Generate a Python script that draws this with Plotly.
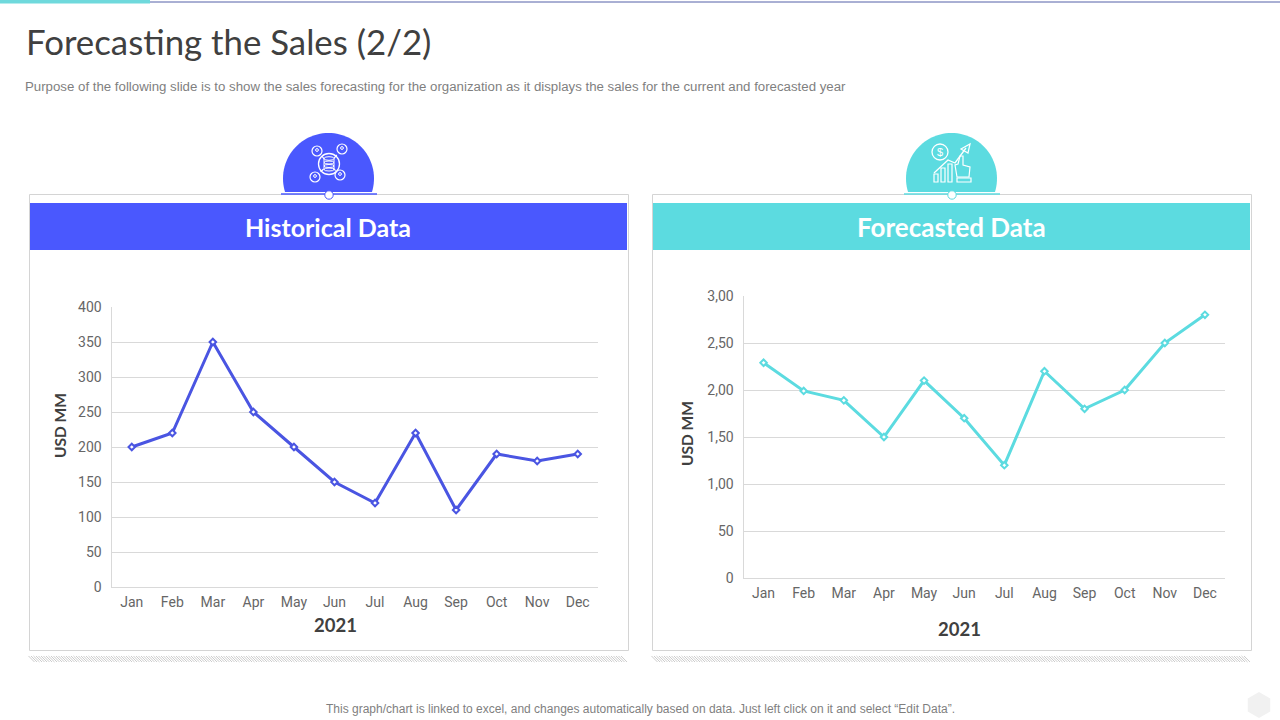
import math
import plotly.graph_objects as go

months = ["Jan", "Feb", "Mar", "Apr", "May", "Jun", "Jul", "Aug", "Sep", "Oct", "Nov", "Dec"]
historical = [200, 220, 350, 250, 200, 150, 120, 220, 110, 190, 180, 190]
forecast = [2.29, 1.99, 1.89, 1.5, 2.1, 1.7, 1.2, 2.2, 1.8, 2.0, 2.5, 2.8]
hist_ticks = [0, 50, 100, 150, 200, 250, 300, 350, 400]
fore_ticks = [0, 0.5, 1.0, 1.5, 2.0, 2.5, 3.0]
fore_labels = ["0", "50", "1,00", "1,50", "2,00", "2,50", "3,00"]

BLUE = "#4a58fe"
LINE_BLUE = "#4a55e2"
TEAL = "#5cdbe0"
W, H = 1280, 720


def X(px):
    return px / W


def Y(py):
    return 1 - py / H


shapes = []
annotations = []


def rect(x0, y0, x1, y1, fill=None, line=None, lw=1):
    shapes.append(dict(type="rect", xref="paper", yref="paper", x0=X(x0), x1=X(x1), y0=Y(y0), y1=Y(y1),
                       fillcolor=fill or "rgba(0,0,0,0)", line=dict(color=line or "rgba(0,0,0,0)", width=lw if line else 0)))


def seg(x0, y0, x1, y1, color, lw=1):
    shapes.append(dict(type="line", xref="paper", yref="paper", x0=X(x0), x1=X(x1), y0=Y(y0), y1=Y(y1),
                       line=dict(color=color, width=lw)))


def circ(cx, cy, r, fill=None, line=None, lw=1, ry=None):
    ry = r if ry is None else ry
    shapes.append(dict(type="circle", xref="paper", yref="paper", x0=X(cx - r), x1=X(cx + r), y0=Y(cy - ry), y1=Y(cy + ry),
                       fillcolor=fill or "rgba(0,0,0,0)", line=dict(color=line or "rgba(0,0,0,0)", width=lw if line else 0)))


def path(points, fill=None, line=None, lw=1, close=False):
    d = "M" + " L".join(f"{X(a):.5f},{Y(b):.5f}" for a, b in points) + (" Z" if close else "")
    shapes.append(dict(type="path", xref="paper", yref="paper", path=d,
                       fillcolor=fill or "rgba(0,0,0,0)", line=dict(color=line or "rgba(0,0,0,0)", width=lw if line else 0)))


def text(x, y, s, size, color, family, anchor="center", bold=False, angle=0):
    annotations.append(dict(xref="paper", yref="paper", x=X(x), y=Y(y), text=f"<b>{s}</b>" if bold else s,
                            showarrow=False, xanchor=anchor, yanchor="middle", textangle=angle,
                            font=dict(size=size, color=color, family=family)))


def hatch(x0, x1, y0, y1):
    segs = []
    step = 2.5
    x = x0
    while x < x1:
        segs.append(f"M{X(x):.5f},{Y(y0):.5f} L{X(x + (y1 - y0)):.5f},{Y(y1):.5f}")
        x += step
    shapes.append(dict(type="path", xref="paper", yref="paper", path=" ".join(segs), line=dict(color="#cccccc", width=1)))


def dome(cx, color, cy=178.5, r=45.5, bottom=192):
    pts = []
    floor_angle = math.asin((bottom - cy) / r)
    n = 60
    for i in range(n + 1):
        a = -floor_angle + (math.pi + 2 * floor_angle) * i / n
        pts.append((cx + r * math.cos(a), cy - r * math.sin(a)))
    path(pts, fill=color, close=True)


# top rule
seg(150, 2, 1280, 2, "#5560a8", 1)
rect(0, 0, 150, 3.5, fill="#6fd9dc")

# panels
for x0, x1, color, ttl, tsize in [(29.5, 628.5, BLUE, "Historical Data", 25), (652.5, 1251.5, TEAL, "Forecasted Data", 26)]:
    cx = (x0 + x1) / 2
    dome(cx - 0.5, color)
    rect(x0, 194.5, x1, 650.5, line="#d4d4d4", lw=1)
    rect(x0 + 0.5, 203, x1 - 1.5, 250, fill=color)
    seg(cx - 48, 194, cx + 48, 194, color, 1.5)
    circ(cx, 195, 4.2, fill="#ffffff", line=color, lw=1)
    text(cx - 1, 226.5, ttl, tsize, "#ffffff", "Lato", bold=True)
    hatch(x0 - 1, x1 - 6, 656, 662)

# database-network icon
ic = "#ffffff"
circ(329, 164, 10.5, line=ic, lw=1.3)
circ(329, 158.5, 5, line=ic, lw=1, ry=1.8)
seg(324, 158.5, 324, 169.5, ic, 1)
seg(334, 158.5, 334, 169.5, ic, 1)
for dy in (162.5, 166, 169.5):
    circ(329, dy, 5, line=ic, lw=1, ry=1.5)
for cx, cy in [(317, 151), (342, 149), (315, 177), (340, 175)]:
    circ(cx, cy, 5, line=ic, lw=1.2)
    circ(cx, cy - 1, 1.4, line=ic, lw=1)
    seg(cx + (329 - cx) * 0.4, cy + (164 - cy) * 0.4, cx + (329 - cx) * 0.62, cy + (164 - cy) * 0.62, ic, 1.2)

# growth-hand icon
circ(940, 152, 8, line=ic, lw=1.3)
text(940, 152, "$", 11, ic, "Liberation Sans")
path([(934, 173), (948, 160), (955, 163), (966, 148)], line=ic, lw=1.3)
path([(970, 144), (968, 153), (961, 149)], line=ic, lw=1.2, close=True)
rect(934, 174, 938, 182, line=ic, lw=1.2)
rect(941, 168, 945, 182, line=ic, lw=1.2)
rect(948, 164, 952, 182, line=ic, lw=1.2)
path([(957, 177), (955, 165), (958, 164), (960, 156), (963, 156), (963, 165), (970, 167), (969, 177)], line=ic, lw=1.2, close=True)
rect(957, 178, 971, 182, line=ic, lw=1.2)

# titles and notes
text(24, 41, "Forecasting the Sales (2/2)", 34.8, "#404040", "Lato", anchor="left")
text(23, 86, "Purpose of the following slide is to show the sales forecasting for the organization as it displays the sales for the current and forecasted year",
     13.25, "#7f7f7f", "Liberation Sans", anchor="left")
text(640, 709, "This graph/chart is linked to excel, and changes automatically based on data. Just left click on it and select “Edit Data”.",
     12, "#7f7f7f", "Liberation Sans")
text(60, 426, "USD MM", 15.5, "#404040", "Lato", bold=True, angle=-90)
text(687, 434, "USD MM", 15.5, "#404040", "Lato", bold=True, angle=-90)
text(335, 625, "2021", 18.5, "#404040", "Lato", bold=True)
text(959, 629, "2021", 18.5, "#404040", "Lato", bold=True)

# faint hexagon badge
r = 13
path([(1259 + r * math.sin(math.radians(a)), 705 - r * math.cos(math.radians(a))) for a in range(0, 360, 60)],
     fill="#f1f1f1", close=True)

TICK = dict(family="Roboto", size=14, color="#666666")
NOTICK = "rgba(0,0,0,0)"


def marker(color):
    return dict(symbol="diamond", size=5, color="#ffffff", line=dict(color=color, width=2))


fig = go.Figure()
fig.add_trace(go.Scatter(x=months, y=historical, mode="lines+markers", line=dict(color=LINE_BLUE, width=3),
                         marker=marker(LINE_BLUE), xaxis="x", yaxis="y", showlegend=False))
fig.add_trace(go.Scatter(x=months, y=forecast, mode="lines+markers", line=dict(color=TEAL, width=3),
                         marker=marker(TEAL), xaxis="x2", yaxis="y2", showlegend=False))

axis_x = dict(type="category", tickfont=TICK, showgrid=False, ticks="outside", ticklen=2, tickcolor=NOTICK,
              showline=True, linecolor="#d9d9d9", linewidth=1, range=[-0.5, 11.5], zeroline=False, automargin=False)
axis_y = dict(tickfont=TICK, showgrid=True, gridcolor="#d9d9d9", gridwidth=1, ticks="outside", ticklen=6,
              tickcolor=NOTICK, showline=True, linecolor="#d9d9d9", linewidth=1, zeroline=False, automargin=False)

fig.update_layout(
    width=W, height=H, margin=dict(l=0, r=0, t=0, b=0), paper_bgcolor="#ffffff", plot_bgcolor="#ffffff",
    showlegend=False, shapes=shapes, annotations=annotations,
    xaxis=dict(axis_x, domain=[X(111.5), X(598)], anchor="y", categoryorder="array", categoryarray=months),
    yaxis=dict(axis_y, domain=[Y(587), Y(307)], anchor="x", range=[0, 400], tickvals=hist_ticks),
    xaxis2=dict(axis_x, domain=[X(743.5), X(1225)], anchor="y2", categoryorder="array", categoryarray=months),
    yaxis2=dict(axis_y, domain=[Y(578), Y(296)], anchor="x2", range=[0, 3], tickvals=fore_ticks, ticktext=fore_labels),
)

fig.write_html("out.html", config=dict(displayModeBar=False), post_script="document.body.style.margin='0';")
